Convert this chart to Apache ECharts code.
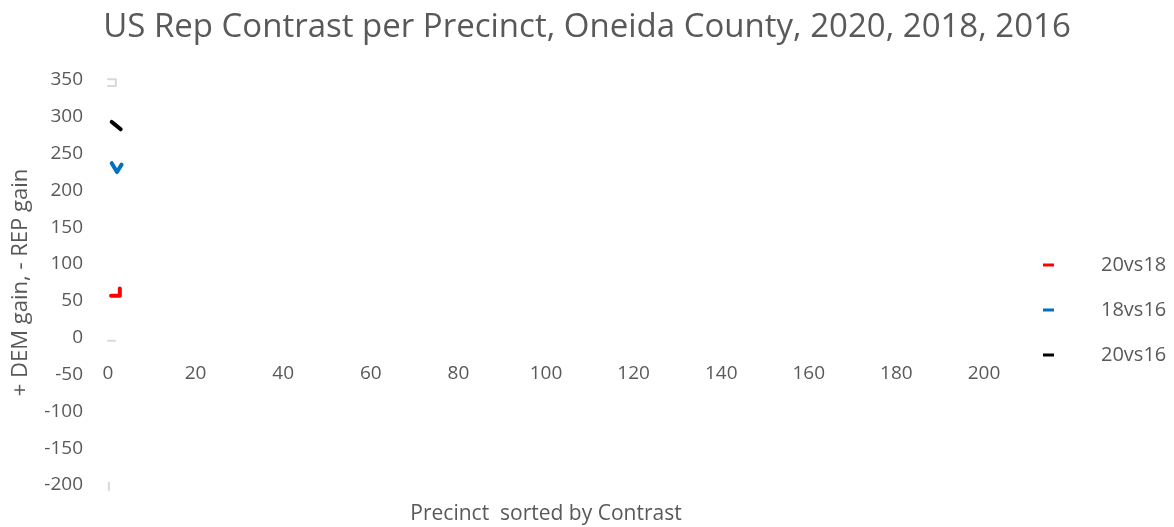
<!DOCTYPE html>
<html>
<head>
<meta charset="utf-8">
<script src="https://cdn.jsdelivr.net/npm/echarts@6/dist/echarts.min.js"></script>
<style>
  html, body { margin: 0; padding: 0; background: #fff; }
  #chart { width: 1174px; height: 527px; }
</style>
</head>
<body>
<div id="chart"></div>
<script>
// values: [precinct, contrast]
const xTicks = [0, 20, 40, 60, 80, 100, 120, 140, 160, 180, 200]
const seriesNames = ['20vs18', '18vs16', '20vs16']
const vs2018 = [[0.7, 57], [2.7, 57], [2.7, 67]]
const vs2016a = [[0.85, 237], [2.05, 225], [3.1, 235]]
const vs2016b = [[0.85, 293], [1.7, 289], [2.9, 283]]
// faint grey marks with no legend entry
const faint = [[0, 351], [1.8, 351], [1.8, 342], [0, 342], [0, '-'],
  [0, -4], [1.6, -4], [1.6, '-'],
  [0.2, -197], [0.2, -207]]

const colors = ['#ff0000', '#0070c0', '#000000']
const font = 'Open Sans'
const grey = '#595959'

function lineSeries(name, data, color, width) {
  return {
    name,
    data,
    type: 'line',
    showSymbol: false,
    symbol: 'rect',
    clip: false,
    connectNulls: false,
    lineStyle: { color, width, cap: 'round', join: 'round' },
    itemStyle: { color }
  }
}

const chart = echarts.init(document.getElementById('chart'))

// x axis sits on the zero line (grid bottom is at -200, 147px below zero)
const option = {
  animation: false,
  textStyle: { fontFamily: font },
  title: {
    text: 'US Rep Contrast per Precinct, Oneida County, 2020, 2018, 2016',
    left: 'center',
    top: 6,
    textStyle: { fontFamily: font, fontSize: 33, fontWeight: 'normal', color: grey }
  },
  grid: { left: 108, right: 190, top: 80, bottom: 42, containLabel: false, outerBoundsMode: 'none' },
  legend: {
    orient: 'vertical',
    left: 1038,
    top: 248,
    itemWidth: 11,
    itemHeight: 3,
    itemGap: 21,
    icon: 'rect',
    data: seriesNames,
    textStyle: { fontFamily: font, fontSize: 20, color: grey, lineHeight: 24, padding: [0, 0, 0, 42] }
  },
  xAxis: {
    type: 'value',
    position: 'bottom',
    offset: -147,
    min: 0,
    max: 200,
    interval: 20,
    name: 'Precinct  sorted by Contrast',
    nameLocation: 'middle',
    nameGap: 166,
    nameTextStyle: { fontFamily: font, fontSize: 21, color: grey },
    axisLine: { show: false, onZero: false },
    axisTick: { show: false },
    splitLine: { show: false },
    axisLabel: {
      margin: 26,
      fontFamily: font,
      fontSize: 19,
      color: grey,
      formatter: v => (xTicks.indexOf(v) >= 0 ? String(v) : '')
    }
  },
  yAxis: {
    type: 'value',
    min: -200,
    max: 350,
    interval: 50,
    name: '+ DEM gain, - REP gain',
    nameLocation: 'middle',
    nameGap: 76,
    nameTextStyle: { fontFamily: font, fontSize: 22, color: grey },
    axisLine: { show: false, onZero: false },
    axisTick: { show: false },
    splitLine: { show: false },
    axisLabel: { margin: 25, fontFamily: font, fontSize: 19, color: grey }
  },
  series: [
    lineSeries('20vs18', vs2018, colors[0], 4),
    lineSeries('18vs16', vs2016a, colors[1], 4),
    lineSeries('20vs16', vs2016b, colors[2], 4),
    lineSeries('faint', faint, '#d9d9d9', 2)
  ]
}

chart.setOption(option)
</script>
</body>
</html>
